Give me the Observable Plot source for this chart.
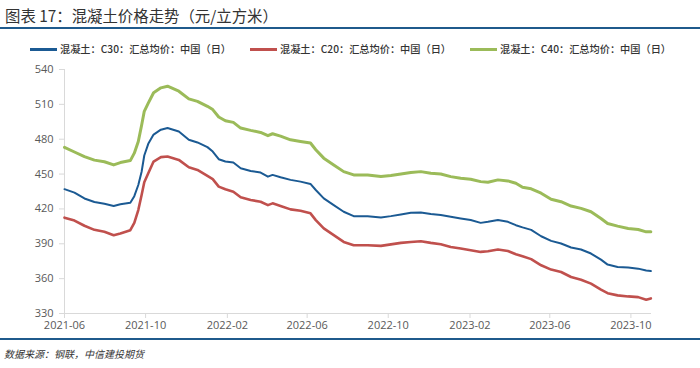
<!DOCTYPE html>
<html><head><meta charset="utf-8">
<script src="https://cdn.jsdelivr.net/npm/d3@7"></script>
<script src="https://cdn.jsdelivr.net/npm/@observablehq/plot@0.6"></script>
<style>
body{margin:0;background:#fff;width:700px;height:368px;position:relative;overflow:hidden;font-family:"Noto Sans CJK SC",sans-serif;}
#title{position:absolute;left:5px;top:5px;font-size:15.4px;line-height:20px;color:#333;white-space:nowrap;}
.rule{position:absolute;left:0;width:700px;height:2px;background:#1F5A8C;}
#legend{position:absolute;top:41px;left:0;width:700px;height:16px;font-size:10.2px;line-height:16px;color:#333;white-space:nowrap;font-weight:500;}
.item{position:absolute;top:0;display:flex;align-items:center;height:16px;}
.sw{width:27px;height:3px;margin-right:3px;}
#chart{position:absolute;left:0;top:60px;}
#source{position:absolute;left:4px;top:347px;font-size:10px;line-height:14px;font-style:italic;color:#333;white-space:nowrap;}
</style></head>
<body>
<div id="title">图表 17：混凝土价格走势（元/立方米）</div>
<div class="rule" style="top:27px"></div>
<div id="legend"></div>
<div id="chart"></div>
<div class="rule" style="top:338px"></div>
<div id="source">数据来源：钢联，中信建投期货</div>
<script>
const seriesNames = ["混凝土：C30：汇总均价：中国（日）","混凝土：C20：汇总均价：中国（日）","混凝土：C40：汇总均价：中国（日）"];
const seriesColors = ["#1B5A93","#C0504D","#9BBB59"];
const dates = ["2021-06-01","2021-06-16","2021-07-01","2021-07-16","2021-07-31","2021-08-14","2021-08-24","2021-09-08","2021-09-14","2021-09-20","2021-09-25","2021-09-29","2021-10-05","2021-10-13","2021-10-24","2021-11-03","2021-11-20","2021-12-05","2021-12-18","2022-01-02","2022-01-10","2022-01-19","2022-01-29","2022-02-10","2022-02-21","2022-03-08","2022-03-23","2022-04-03","2022-04-10","2022-04-22","2022-05-07","2022-05-22","2022-06-06","2022-06-14","2022-06-26","2022-07-11","2022-07-26","2022-08-10","2022-08-31","2022-09-20","2022-10-05","2022-10-20","2022-11-04","2022-11-19","2022-12-04","2022-12-19","2023-01-03","2023-01-18","2023-02-02","2023-02-17","2023-02-28","2023-03-15","2023-03-30","2023-04-11","2023-04-21","2023-05-04","2023-05-19","2023-06-03","2023-06-18","2023-07-03","2023-07-18","2023-08-02","2023-08-17","2023-08-27","2023-09-11","2023-09-27","2023-10-12","2023-10-24","2023-10-31"];
const c30 = [437,434,429,426,424.5,422.5,424,425.3,431,440.6,452,466,476,484,488.2,489.6,486.7,479.5,477.2,473.2,469.4,462.8,460.8,459.9,455,452.7,451.3,447.8,449.3,447.2,445,443.5,441.5,436.3,429.1,423.3,417.6,413.8,413.8,412.7,413.8,415.2,416.7,417,415.6,414.7,413.2,411.8,410.4,408,408.9,410.4,408.9,406,404.1,402,396.5,392.5,390.2,386.8,385.1,381.6,376.4,372.1,370,369.5,368.6,367,366.5];
const c20 = [412.5,410,405.5,402,400.3,397.4,398.9,401.7,408,419,432,443,450.7,460.8,464.6,465.1,462.2,455.9,453.6,448.4,445.6,439.2,436.9,434.8,430,427.7,426.2,423.3,424.8,422.6,419.6,418.4,416.2,410.4,403.2,397.4,391.6,388.8,388.8,388.2,389.5,390.8,391.6,392.2,390.8,389.6,387.3,385.9,384.5,383,383.6,385.1,383.8,381,379.3,376.8,371.5,367.8,365.7,361.4,359.1,355.7,350.5,347.5,345.6,344.7,344.1,341.8,343];
const c40 = [473,469,465,462,460.6,457.9,459.9,461.6,468,478,492,504,511,520,524.2,525.6,521.3,514.7,512.6,508.3,505.5,499.1,495.9,494.5,489.6,487.6,485.8,483,484.7,482.7,479.5,478.1,476.7,470.9,463.7,457.9,452.1,449.3,449.3,448,448.8,450.1,451.3,452.1,450.7,450.1,447.8,446.4,445.6,443.5,443,445,444.1,442.1,438.6,437.3,433.5,428.3,426.2,422.5,420.5,417.6,411.8,407.5,405.2,403.2,402.3,400.3,400.3];
const yTicks = [330,360,390,420,450,480,510,540];
const xTickLabels = ["2021-06","2021-10","2022-02","2022-06","2022-10","2023-02","2023-06","2023-10"];
const xDomain = ["2021-06-01","2023-11-01"];
const lineWidths = [2, 2.6, 3];

const parse = d3.utcParse("%Y-%m-%d");
const parseM = d3.utcParse("%Y-%m");
const valuesBySeries = [c30, c20, c40];

// legend
const legend = document.getElementById("legend");
const legendX = [30, 250, 470];
seriesNames.forEach((n,i) => {
  const it = document.createElement("div");
  it.className = "item";
  it.style.left = legendX[i] + "px";
  it.innerHTML = `<span class="sw" style="background:${seriesColors[i]}"></span><span>${n}</span>`;
  legend.appendChild(it);
});

const axisColor = "#D9D9D9";
const lineMarks = [2,1,0].map(si => Plot.line(
  dates.map((d,i) => ({date: parse(d), value: valuesBySeries[si][i], series: seriesNames[si]})),
  {x: "date", y: "value", stroke: "series", strokeWidth: lineWidths[si], strokeLinejoin: "round"}
));
const chart = Plot.plot({
  width: 700,
  height: 275,
  marginLeft: 64,
  marginRight: 49,
  marginTop: 9,
  marginBottom: 22,
  style: {fontFamily: "'Open Sans', 'Noto Sans CJK SC', sans-serif", fontSize: "11px", color: "#595959", background: "#fff"},
  x: {type: "utc", domain: xDomain.map(parse), label: null},
  y: {domain: [330, 540], label: null},
  color: {domain: seriesNames, range: seriesColors},
  marks: [
    Plot.ruleX([parse(xDomain[0])], {stroke: axisColor, strokeWidth: 1}),
    Plot.ruleY([330], {stroke: axisColor, strokeWidth: 1}),
    Plot.axisY({ticks: yTicks, label: null, tickSize: 5, tickPadding: 6, stroke: axisColor, tickFormat: d => d3.format("d")(d), fill: "#595959", fontSize: 11}),
    Plot.axisX({ticks: xTickLabels.map(parseM), label: null, tickSize: 5, tickPadding: 3, stroke: axisColor, tickFormat: d3.utcFormat("%Y-%m"), fill: "#595959", fontSize: 11}),
    ...lineMarks
  ]
});
document.getElementById("chart").appendChild(chart);
</script>
</body></html>
